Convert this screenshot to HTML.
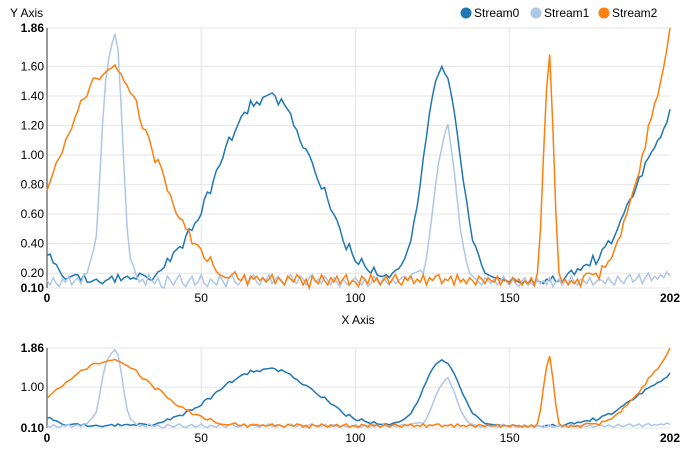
<!DOCTYPE html>
<html><head><meta charset="utf-8">
<style>
html,body{margin:0;padding:0;background:#fff;}
svg{display:block;font-family:"Liberation Sans",sans-serif;}
text{font-size:12px;fill:#000;}
</style></head>
<body>
<svg id="chart" width="700" height="450" viewBox="0 0 700 450"></svg>
<script>
const seriesNames = ["Stream0","Stream1","Stream2"];
const seriesColors = ["#1f77b4","#aec7e8","#ff7f0e"];
const yTicksMain = [0.10,0.20,0.40,0.60,0.80,1.00,1.20,1.40,1.60,1.86];
const yTicksFocus = [0.10,1.00,1.86];
const xTicks = [0,50,100,150,202];
const stream0 = [
.32,.33,.27,.26,.22,.18,.16,.17,.18,.19,
.19,.15,.19,.14,.14,.15,.16,.14,.13,.15,
.16,.18,.14,.19,.15,.17,.18,.16,.17,.16,
.20,.19,.18,.16,.15,.18,.21,.22,.24,.30,
.28,.34,.36,.38,.37,.45,.50,.49,.54,.56,
.60,.70,.75,.74,.83,.90,.93,.98,1.06,1.12,
1.10,1.16,1.21,1.26,1.29,1.28,1.37,1.33,1.36,1.34,
1.39,1.40,1.41,1.42,1.40,1.34,1.38,1.34,1.31,1.28,
1.20,1.17,1.10,1.05,1.04,1.00,.95,.88,.82,.77,
.78,.70,.63,.60,.56,.50,.42,.36,.40,.33,
.28,.26,.30,.25,.22,.20,.24,.19,.18,.18,
.19,.17,.20,.22,.23,.26,.30,.36,.42,.55,
.65,.80,.98,1.12,1.28,1.40,1.50,1.55,1.60,1.55,
1.52,1.42,1.30,1.15,.98,.82,.70,.55,.42,.38,
.32,.25,.20,.19,.18,.17,.17,.16,.15,.15,
.14,.17,.15,.14,.13,.15,.12,.16,.13,.15,
.14,.13,.16,.15,.18,.14,.15,.14,.17,.20,
.22,.19,.23,.22,.25,.26,.25,.32,.26,.30,
.36,.38,.42,.40,.45,.50,.56,.60,.66,.70,
.72,.78,.85,.86,.95,.98,1.02,1.05,1.10,1.12,
1.18,1.22,1.31];
const stream1 = [
.15,.12,.17,.13,.11,.16,.14,.18,.12,.15,
.17,.13,.19,.20,.28,.35,.45,.80,1.20,1.50,
1.65,1.75,1.82,1.72,1.35,.90,.50,.30,.25,.18,
.14,.16,.12,.19,.15,.13,.17,.11,.10,.18,
.15,.12,.16,.19,.13,.11,.15,.18,.12,.14,
.19,.13,.11,.16,.14,.12,.18,.15,.11,.17,
.19,.14,.12,.15,.18,.13,.16,.19,.14,.12,
.17,.15,.19,.13,.16,.18,.14,.12,.17,.19,
.15,.13,.18,.16,.12,.17,.19,.14,.16,.13,
.18,.15,.12,.17,.14,.11,.16,.13,.12,.15,
.17,.14,.12,.16,.11,.13,.18,.15,.12,.17,
.14,.12,.16,.13,.15,.17,.18,.16,.19,.20,
.21,.22,.20,.30,.45,.62,.80,.95,1.05,1.15,
1.21,1.05,.90,.70,.50,.38,.28,.20,.18,.16,
.14,.12,.17,.15,.13,.16,.12,.15,.18,.14,
.12,.16,.13,.11,.15,.17,.12,.14,.11,.16,
.13,.15,.12,.17,.11,.14,.16,.12,.15,.13,
.18,.14,.12,.16,.15,.13,.17,.12,.14,.16,
.15,.13,.17,.14,.12,.18,.15,.13,.17,.19,
.14,.16,.19,.13,.17,.20,.15,.18,.16,.19,
.17,.21,.18];
const stream2 = [
.76,.82,.88,.95,.98,1.02,1.10,1.14,1.18,1.25,
1.30,1.37,1.38,1.40,1.47,1.52,1.52,1.51,1.54,1.56,
1.58,1.59,1.61,1.57,1.55,1.50,1.47,1.42,1.40,1.37,
1.25,1.18,1.17,1.12,1.04,.95,.97,.92,.85,.76,
.73,.66,.60,.57,.56,.50,.49,.40,.40,.39,
.36,.30,.28,.31,.25,.21,.19,.18,.17,.17,
.19,.21,.16,.15,.19,.12,.18,.16,.18,.15,
.17,.14,.16,.19,.13,.17,.15,.12,.18,.16,
.14,.19,.17,.12,.16,.10,.18,.15,.13,.19,
.15,.12,.17,.14,.18,.13,.16,.19,.12,.15,
.14,.11,.18,.16,.13,.19,.14,.17,.12,.15,
.18,.13,.16,.19,.14,.12,.17,.15,.18,.13,
.16,.14,.19,.12,.17,.15,.18,.19,.13,.16,
.15,.18,.12,.19,.14,.16,.13,.17,.15,.12,
.18,.16,.13,.17,.15,.14,.18,.12,.16,.15,
.13,.17,.14,.16,.12,.15,.13,.17,.12,.20,
.50,1.00,1.45,1.68,1.20,.60,.20,.14,.16,.12,
.15,.13,.16,.11,.18,.20,.20,.19,.20,.16,
.25,.24,.28,.30,.36,.42,.45,.55,.60,.68,
.75,.82,.88,1.00,1.05,1.20,1.25,1.35,1.40,1.50,
1.60,1.72,1.86];
const allSeries = [stream0, stream1, stream2];

const NS = "http://www.w3.org/2000/svg";
const svg = document.getElementById("chart");
function mk(tag, attrs, parent){const e=document.createElementNS(NS,tag);for(const k in attrs)e.setAttribute(k,attrs[k]);(parent||svg).appendChild(e);return e;}
const X0=47, X1=670, XMIN=0, XMAX=202;
function xs(v){return X0+(v-XMIN)/(XMAX-XMIN)*(X1-X0);}
function makeY(top,bottom){return v=>bottom-(v-0.10)/(1.86-0.10)*(bottom-top);}

function drawPanel(name, top, bottom, yTicks, showTitles){
  const ys = makeY(top,bottom);
  const g = mk("g",{});
  
  
  // grid
  yTicks.forEach(t=>{
    const l=mk("line",{x1:X0,x2:X1,y1:ys(t),y2:ys(t),stroke:"#e5e5e5","stroke-width":1},g);
    
    
    const tx=mk("text",{x:X0-3,y:ys(t)+4,"text-anchor":"end"},g);
    
    
    if(t===0.10||t===1.86) tx.setAttribute("font-weight","bold");
    tx.textContent=t.toFixed(2);
  });
  xTicks.forEach(t=>{
    if(t!==0&&t!==202){
      const l=mk("line",{x1:xs(t),x2:xs(t),y1:top,y2:bottom,stroke:"#e5e5e5","stroke-width":1},g);
      
      
    }
    const tx=mk("text",{x:xs(t),y:bottom+14,"text-anchor":"middle"},g);
    
    
    if(t===0||t===202) tx.setAttribute("font-weight","bold");
    tx.textContent=t;
  });
  const ax=mk("line",{x1:X0,x2:X0,y1:top,y2:bottom,stroke:"#333","stroke-width":1},g);
  
  
  allSeries.forEach((s,i)=>{
    const d=s.map((v,j)=>(j?"L":"M")+xs(j).toFixed(1)+","+ys(v).toFixed(1)).join("");
    const p=mk("path",{d:d,fill:"none",stroke:seriesColors[i],"stroke-width":1.5},g);
    
    
  });
}
drawPanel("main-plot",28,288,yTicksMain,true);
drawPanel("focus-plot",348,428,yTicksFocus,false);

const yt=mk("text",{x:10,y:17});


yt.textContent="Y Axis";
const xt=mk("text",{x:358,y:324,"text-anchor":"middle"});


xt.textContent="X Axis";

const legX=[466,536,604];
seriesNames.forEach((n,i)=>{
  const g=mk("g",{});
  
  
  mk("circle",{cx:legX[i],cy:13,r:5.5,fill:seriesColors[i]},g);
  const t=mk("text",{x:legX[i]+8,y:17},g);
  t.textContent=n;
});
</script>
</body></html>
